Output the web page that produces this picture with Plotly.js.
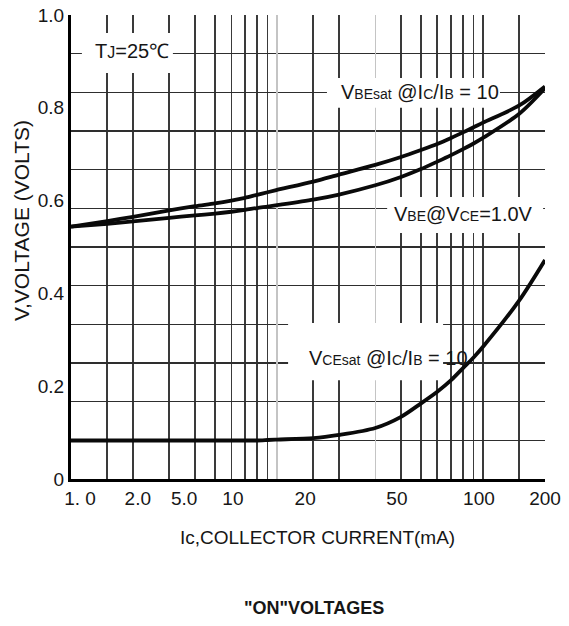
<!DOCTYPE html>
<html>
<head>
<meta charset="utf-8">
<script src="https://cdn.plot.ly/plotly-3.0.1.min.js"></script>
<style>html,body{margin:0;padding:0;background:#fff;}#chart{width:569px;height:626px;}</style>
</head>
<body>
<div id="chart"></div>
<script>
// ---- data ----
const icMA = [1, 1.5, 2, 3, 4, 5, 6, 7, 8, 9, 10, 15, 20, 30, 40, 50, 60, 70, 80, 90, 100, 150, 200];
const vbeSat = [0.544, 0.556, 0.565, 0.579, 0.588, 0.594, 0.600, 0.606, 0.6125, 0.618, 0.623, 0.641, 0.656, 0.677, 0.694, 0.709, 0.722, 0.735, 0.747, 0.758, 0.768, 0.805, 0.846];
const vbeOn  = [0.544, 0.550, 0.555, 0.563, 0.568, 0.572, 0.576, 0.580, 0.584, 0.587, 0.590, 0.602, 0.613, 0.633, 0.651, 0.668, 0.684, 0.698, 0.711, 0.723, 0.735, 0.787, 0.842];
const vceSat = [0.083, 0.083, 0.083, 0.083, 0.083, 0.083, 0.083, 0.083, 0.083, 0.084, 0.085, 0.088, 0.095, 0.110, 0.134, 0.163, 0.188, 0.213, 0.239, 0.262, 0.285, 0.385, 0.472];

// tick labels as printed (positions where they appear in the reference)
const xTickText = ["1. 0", "2.0", "5.0", "10", "20", "50", "100", "200"];
const xTickPos  = [1.106, 2.11, 3.54, 6.11, 13.7, 38.2, 95.6, 200];
const yTickText = ["0", "0.2", "0.4", "0.6", "0.8", "1.0"];
const yTickPos  = [0, 0.2, 0.4, 0.6, 0.8, 1.0];

// grid lines of the log paper
const xGridDark  = [1.5, 2, 3, 4, 5, 6, 7, 8, 9, 15, 20, 40, 50, 60, 70, 80, 90, 100, 150];
const xGridLight = [10, 30, 200];
const yGridDark  = [1/12, 2/12, 3/12, 4/12, 5/12, 6/12, 7/12, 8/12, 9/12, 10/12, 11/12];
const yGridLight = [1.0];

const FONT = "'Liberation Sans', Arial, Helvetica, sans-serif";
const INK = '#161616';
const sm = s => '<span style="font-size:14px">' + s + '</span>';

const lineStyle = {color: '#0a0a0a', width: 3.8, shape: 'spline', smoothing: 0.8};
const traces = [
  {x: icMA, y: vbeSat, type: 'scatter', mode: 'lines', line: lineStyle, name: 'VBEsat', hoverinfo: 'skip'},
  {x: icMA, y: vbeOn,  type: 'scatter', mode: 'lines', line: lineStyle, name: 'VBE', hoverinfo: 'skip'},
  {x: icMA, y: vceSat, type: 'scatter', mode: 'lines', line: lineStyle, name: 'VCEsat', hoverinfo: 'skip'},
  {x: [], y: [], xaxis: 'x2', yaxis: 'y2', type: 'scatter', mode: 'lines', showlegend: false, hoverinfo: 'skip'}
];

const xr = [0, Math.log10(200)];
const box = (x0, x1, y0, y1) => ({type: 'rect', xref: 'paper', yref: 'paper', x0, x1, y0, y1,
  fillcolor: '#ffffff', line: {width: 0}, layer: 'above'});
const label = (text, x, y, size, extra) => Object.assign({text, xref: 'paper', yref: 'paper', x, y,
  xanchor: 'center', yanchor: 'middle', showarrow: false, font: {family: FONT, size, color: INK}}, extra || {});

const layout = {
  width: 569, height: 626,
  margin: {l: 71, r: 24, t: 15, b: 147},
  paper_bgcolor: '#fff', plot_bgcolor: '#fff',
  showlegend: false,
  title: {text: '<b>"ON"VOLTAGES</b>', x: 0.552, xanchor: 'center', y: 0.03, yanchor: 'middle',
          font: {family: FONT, size: 18, color: INK}},
  xaxis: {
    type: 'log', range: xr, tickmode: 'array', tickvals: xTickPos, ticktext: xTickText,
    showgrid: false, ticks: '', zeroline: false,
    showline: true, linecolor: '#000', linewidth: 3,
    tickfont: {family: FONT, size: 19, color: INK},
    minor: {tickmode: 'array', tickvals: xGridDark, showgrid: true, gridcolor: '#3a3a3a', gridwidth: 1.6, ticks: ''}
  },
  yaxis: {
    range: [0, 1], tickmode: 'array', tickvals: yTickPos, ticktext: yTickText,
    showgrid: false, ticks: '', zeroline: false,
    showline: true, linecolor: '#000', linewidth: 3,
    tickfont: {family: FONT, size: 19, color: INK},
    minor: {tickmode: 'array', tickvals: yGridDark, showgrid: true, gridcolor: '#2e2e2e', gridwidth: 1.6, ticks: ''}
  },
  xaxis2: {type: 'log', range: xr, overlaying: 'x', anchor: 'y2', tickmode: 'array', tickvals: xGridLight,
    showgrid: true, gridcolor: '#c4c4c4', gridwidth: 1.3, showticklabels: false, ticks: '', zeroline: false, showline: false},
  yaxis2: {range: [0, 1], overlaying: 'y', anchor: 'x2', tickmode: 'array', tickvals: yGridLight,
    showgrid: true, gridcolor: '#b0b0b0', gridwidth: 1, showticklabels: false, ticks: '', zeroline: false, showline: false},
  shapes: [
    box(0.023, 0.215, 0.875, 0.961),
    box(0.540, 0.905, 0.800, 0.864),
    box(0.667, 0.996, 0.530, 0.608),
    box(0.458, 0.785, 0.213, 0.336)
  ],
  annotations: [
    label('T<span style="font-size:16px">J</span>=25℃', 0.129, 0.922, 20),
    label('V' + sm('BEsat') + ' @I' + sm('C') + '/I' + sm('B') + ' = 10', 0.736, 0.834, 20),
    label('V' + sm('BE') + '@V' + sm('CE') + '=1.0V', 0.829, 0.571, 20),
    label('V' + sm('CEsat') + ' @I' + sm('C') + '/I' + sm('B') + ' = 10', 0.669, 0.261, 20),
    label('V,VOLTAGE (VOLTS)', -0.1055, 0.558, 21, {textangle: -90}),
    label('Ic,COLLECTOR CURRENT(mA)', 0.521, -0.127, 19)
  ]
};

Plotly.newPlot('chart', traces, layout, {staticPlot: true, displayModeBar: false});
</script>
</body>
</html>
